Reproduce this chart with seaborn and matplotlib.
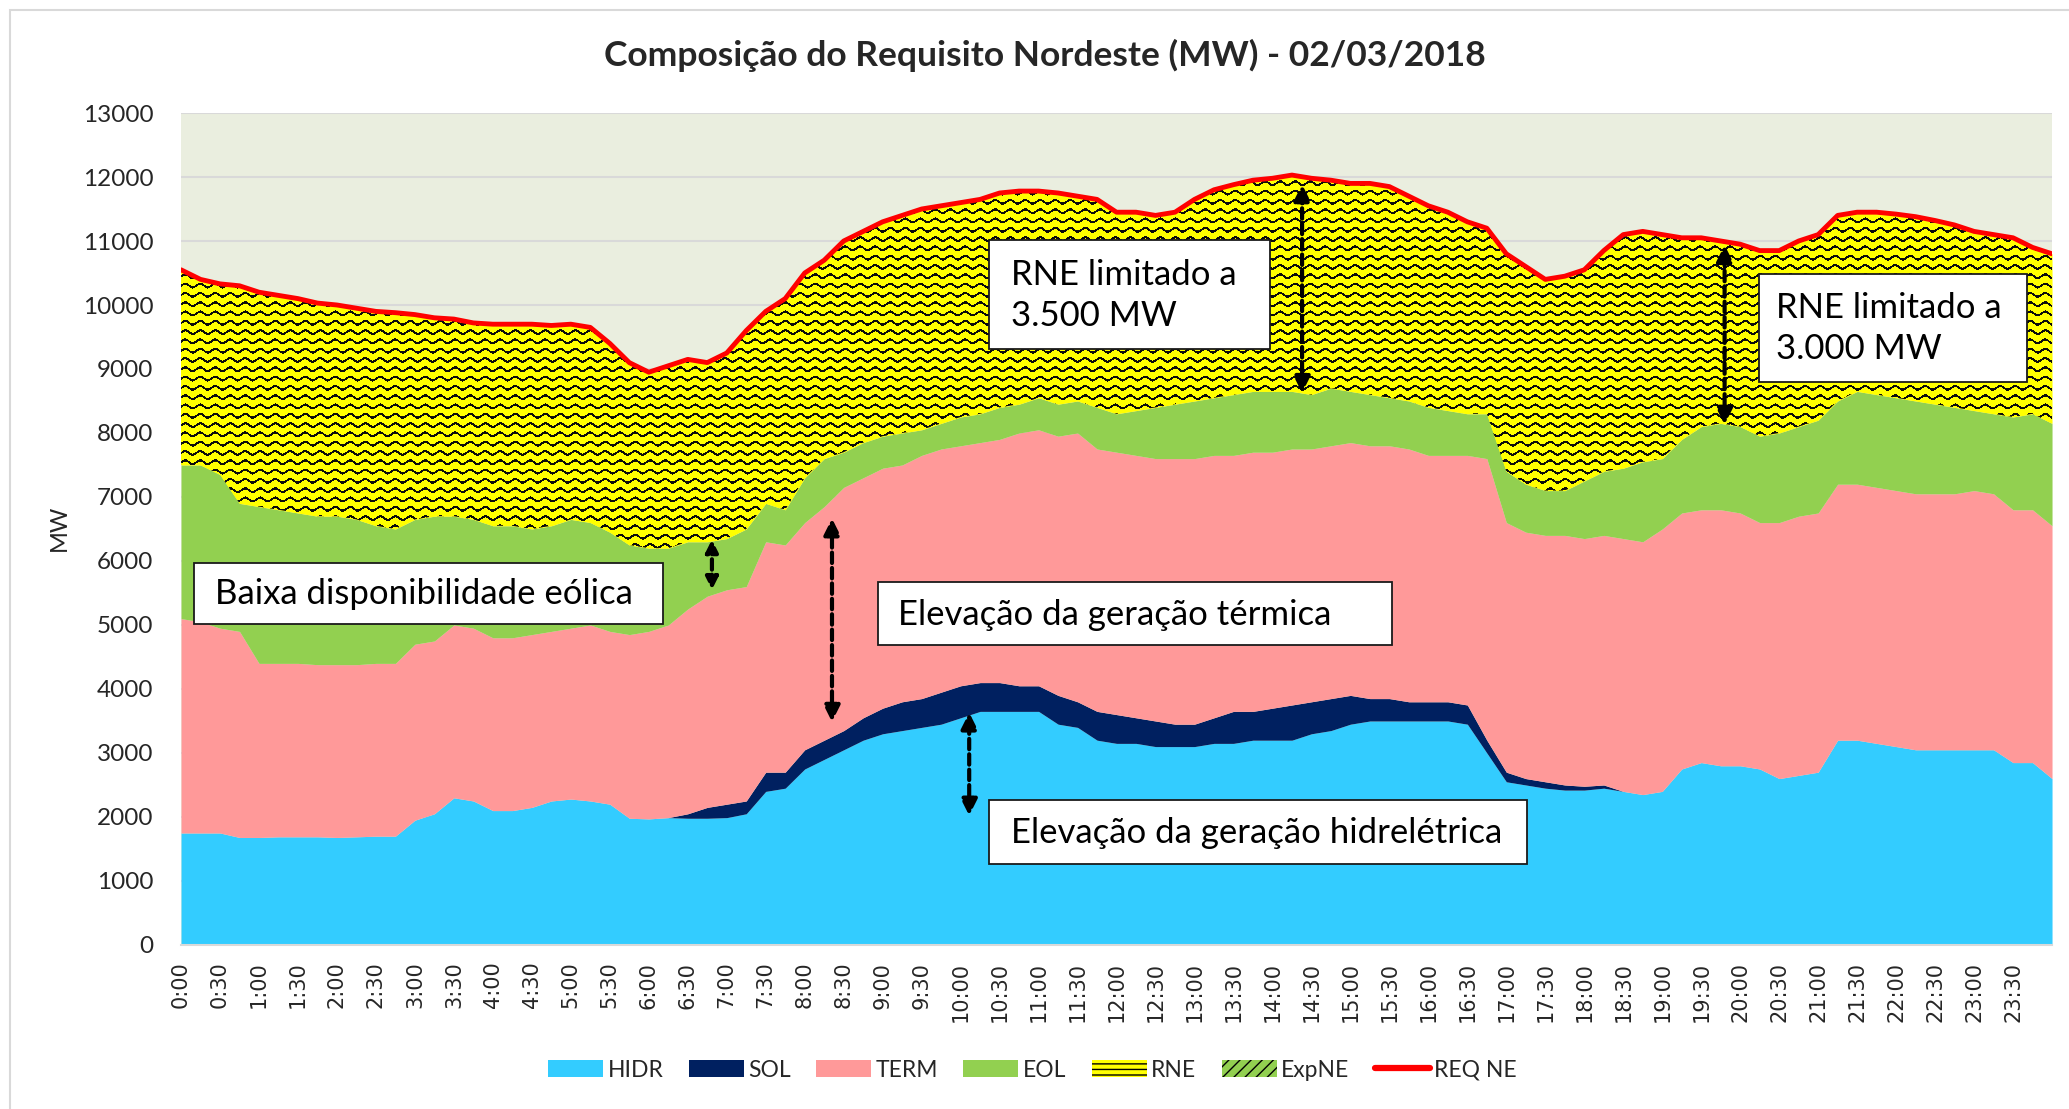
import numpy as np
import pandas as pd
import matplotlib
matplotlib.use("Agg")
import matplotlib.pyplot as plt
from matplotlib.patches import Patch, Rectangle
from matplotlib.lines import Line2D
import seaborn as sns

# ── Dados (MW, a cada 15 min, 0:00 -> 24:00) ──────────
minutos = list(range(0, 24 * 60 + 1, 15))

hidr = [1750, 1750, 1750, 1680, 1680, 1690, 1690, 1690, 1680, 1690, 1700, 1700,
        1950, 2050, 2300, 2250, 2100, 2100, 2150, 2250, 2280, 2250, 2200, 1980,
        1970, 1990, 1980, 1980, 1990, 2050, 2400, 2450, 2750, 2900, 3050, 3200,
        3300, 3350, 3400, 3450, 3550, 3650, 3650, 3650, 3650, 3450, 3400, 3200,
        3150, 3150, 3100, 3100, 3100, 3150, 3150, 3200, 3200, 3200, 3300, 3350,
        3450, 3500, 3500, 3500, 3500, 3500, 3450, 3000, 2550, 2500, 2450, 2420,
        2420, 2450, 2400, 2350, 2400, 2750, 2850, 2800, 2800, 2750, 2600, 2650,
        2700, 3200, 3200, 3150, 3100, 3050, 3050, 3050, 3050, 3050, 2850, 2850,
        2600]

sol = [0, 0, 0, 0, 0, 0, 0, 0, 0, 0, 0, 0,
       0, 0, 0, 0, 0, 0, 0, 0, 0, 0, 0, 0,
       0, 0, 70, 170, 210, 200, 300, 250, 300, 300, 300, 350,
       400, 450, 450, 500, 500, 450, 450, 400, 400, 450, 400, 450,
       450, 400, 400, 350, 350, 400, 500, 450, 500, 550, 500, 500,
       450, 350, 350, 300, 300, 300, 300, 200, 150, 100, 100, 80,
       60, 50, 0, 0, 0, 0, 0, 0, 0, 0, 0, 0,
       0, 0, 0, 0, 0, 0, 0, 0, 0, 0, 0, 0,
       0]

term = [3350, 3300, 3200, 3220, 2720, 2710, 2710, 2690, 2700, 2690, 2700, 2700,
        2750, 2700, 2700, 2700, 2700, 2700, 2700, 2650, 2670, 2750, 2700, 2870,
        2930, 3010, 3200, 3300, 3350, 3350, 3600, 3550, 3550, 3650, 3800, 3750,
        3750, 3700, 3800, 3800, 3750, 3750, 3800, 3950, 4000, 4050, 4200, 4100,
        4100, 4100, 4100, 4150, 4150, 4100, 4000, 4050, 4000, 4000, 3950, 3950,
        3950, 3950, 3950, 3950, 3850, 3850, 3900, 4400, 3900, 3850, 3850, 3900,
        3870, 3900, 3950, 3950, 4100, 4000, 3950, 4000, 3950, 3850, 4000, 4050,
        4050, 4000, 4000, 4000, 4000, 4000, 4000, 4000, 4050, 4000, 3950, 3950,
        3950]

eol = [2400, 2450, 2400, 2000, 2450, 2400, 2350, 2320, 2320, 2270, 2150, 2100,
       1950, 1950, 1700, 1700, 1750, 1750, 1650, 1650, 1700, 1600, 1550, 1400,
       1300, 1200, 1050, 850, 800, 900, 600, 550, 700, 750, 550, 550,
       500, 500, 400, 400, 450, 450, 500, 450, 500, 500, 500, 650,
       600, 700, 800, 850, 900, 900, 950, 950, 950, 900, 850, 900,
       800, 800, 750, 750, 750, 700, 650, 700, 800, 750, 700, 700,
       900, 1000, 1100, 1250, 1100, 1150, 1300, 1350, 1350, 1350, 1400, 1400,
       1450, 1300, 1450, 1450, 1450, 1450, 1400, 1350, 1250, 1250, 1450, 1500,
       1600]

rne = [3050, 2900, 2980, 3400, 3350, 3350, 3350, 3330, 3300, 3300, 3350, 3380,
       3200, 3100, 3080, 3070, 3150, 3150, 3200, 3130, 3050, 3050, 2950, 2850,
       2750, 2850, 2850, 2800, 2900, 3100, 3000, 3300, 3200, 3100, 3300, 3300,
       3350, 3400, 3450, 3400, 3350, 3350, 3350, 3330, 3230, 3300, 3200, 3250,
       3150, 3100, 3000, 3000, 3150, 3250, 3280, 3300, 3330, 3380, 3380, 3250,
       3250, 3300, 3300, 3200, 3150, 3100, 3000, 2900, 3400, 3400, 3300, 3350,
       3300, 3450, 3650, 3600, 3500, 3150, 2950, 2850, 2850, 2900, 2850, 2900,
       2900, 2900, 2800, 2850, 2870, 2880, 2870, 2850, 2800, 2800, 2800, 2600,
       2650]

req_ne = [10550, 10400, 10330, 10300, 10200, 10150, 10100, 10030, 10000, 9950, 9900, 9880,
          9850, 9800, 9780, 9720, 9700, 9700, 9700, 9680, 9700, 9650, 9400, 9100,
          8950, 9050, 9150, 9100, 9250, 9600, 9900, 10100, 10500, 10700, 11000, 11150,
          11300, 11400, 11500, 11550, 11600, 11650, 11750, 11780, 11780, 11750, 11700, 11650,
          11450, 11450, 11400, 11450, 11650, 11800, 11880, 11950, 11980, 12030, 11980, 11950,
          11900, 11900, 11850, 11700, 11550, 11450, 11300, 11200, 10800, 10600, 10400, 10450,
          10550, 10850, 11100, 11150, 11100, 11050, 11050, 11000, 10950, 10850, 10850, 11000,
          11100, 11400, 11450, 11450, 11420, 11380, 11320, 11250, 11150, 11100, 11050, 10900,
          10800]

series = ['HIDR', 'SOL', 'TERM', 'EOL', 'RNE']
cores = ['#33CCFF', '#002060', '#FF9999', '#92D050', '#FFFF00']
rotulos_x = [f"{m // 60}:{m % 60:02d}" for m in range(0, 24 * 60, 30)]

df = pd.DataFrame({'hora': np.array(minutos) / 60.0, 'HIDR': hidr, 'SOL': sol,
                   'TERM': term, 'EOL': eol, 'RNE': rne, 'REQ NE': req_ne})

# ── Figura ────────────────────────────────────────
sns.set_theme(style="white")
plt.rcParams['font.family'] = ['Lato', 'DejaVu Sans']

fig = plt.figure(figsize=(20.69, 11.09), dpi=100)
ax = fig.add_axes([0.0875, 0.1479, 0.9043, 0.7502])
ax.set_facecolor('#EAEEDF')

areas = ax.stackplot(df['hora'], *[df[s] for s in series], colors=cores,
                     linewidth=0, zorder=2)

# textura ondulada do RNE (amarelo com zigue-zague preto)
h_px, w_px = 832, 1871
rr, cc = np.mgrid[0:h_px, 0:w_px]
fase = (rr + 1.8 * np.sin(2 * np.pi * cc / 15.0)) % 9.3
textura = np.ones((h_px, w_px, 3))
textura[..., 2] = 0.0
textura[np.abs(fase - 4.65) < 1.2] = 0.05
im = ax.imshow(textura, extent=(0, 24, 0, 13000), aspect='auto',
               interpolation='nearest', zorder=2.1)
im.set_clip_path(areas[-1].get_paths()[0], transform=ax.transData)

sns.lineplot(data=df, x='hora', y='REQ NE', color='#FF0000', lw=3.5,
             ax=ax, legend=False, zorder=3)

ax.set_xlim(0, 24)
ax.set_ylim(0, 13000)
ax.set_yticks(range(0, 13001, 1000))
ax.set_xticks(np.arange(0, 24, 0.5))
ax.set_xticklabels(rotulos_x, rotation=90, family='DejaVu Sans', fontsize=15)
ax.tick_params(axis='y', labelsize=17.5, pad=20, length=0, colors='#262626')
ax.tick_params(axis='x', pad=12, length=0, colors='#262626')
ax.yaxis.grid(True, color='#D9D9D9', lw=1.5)
ax.set_axisbelow(True)
ax.set_xlabel('')
ax.set_ylabel('')
for s in ['top', 'right', 'left']:
    ax.spines[s].set_visible(False)
ax.spines['bottom'].set_color('#D9D9D9')
ax.spines['bottom'].set_linewidth(1.5)

# ── Caixas de texto ───────────────────────────────
caixas = [
    ((0.17, 5014), 6.01, 950, 0.44, 5490, "Baixa disponibilidade eólica"),
    ((8.94, 4684), 6.59, 991, 9.20, 5160, "Elevação da geração térmica"),
    ((10.37, 1259), 6.89, 1011, 10.64, 1754, "Elevação da geração hidrelétrica"),
    ((10.37, 9307), 3.60, 1713, 10.64, 10153, "RNE limitado a\n3.500 MW"),
    ((20.24, 8791), 3.44, 1692, 20.46, 9637, "RNE limitado a\n3.000 MW"),
]
for canto, larg, alt, tx, ty, txt in caixas:
    ax.add_patch(Rectangle(canto, larg, alt, facecolor='white', edgecolor='#1A1A1A',
                           lw=1.3, zorder=4))
    ax.text(tx, ty, txt, ha='left', va='center', fontsize=25, linespacing=1.35,
            color='black', zorder=5)

# ── Setas ─────────────────────────────────────────
setas = [(6.81, 6335, 5551, 18), (8.35, 6665, 3487, 24), (10.11, 3632, 2022, 24),
         (14.38, 11886, 8626, 24), (19.80, 10937, 8130, 24)]
for xs, y1, y0, ms in setas:
    ax.annotate('', xy=(xs, y1), xytext=(xs, y0),
                arrowprops=dict(arrowstyle='<|-|>', color='black', lw=3,
                                linestyle=(0, (2.5, 1.2)), mutation_scale=ms,
                                shrinkA=0, shrinkB=0),
                zorder=4)

# ── Título, eixo e legenda ────────────────────────
fig.text(0.505, 1 - 55 / 1109, "Composição do Requisito Nordeste (MW) - 02/03/2018",
         ha='center', va='center', fontsize=25.5, fontweight='bold')
fig.text(0.0285, 0.524, "MW", rotation=90, ha='center', va='center', fontsize=17)

handles = [Patch(facecolor=c, edgecolor='none') for c in cores[:4]]
handles.append(Patch(facecolor='#FFFF00', edgecolor='black', hatch='---', lw=0))
handles.append(Patch(facecolor='#92D050', edgecolor='black', hatch='///', lw=0))
handles.append(Line2D([0], [0], color='#FF0000', lw=4.5))
fig.legend(handles, series + ['ExpNE', 'REQ NE'], loc='center',
           bbox_to_anchor=(0.499, 0.035), ncol=7, frameon=False, fontsize=16.5,
           handlelength=2.4, handleheight=0.8, handletextpad=0.2, columnspacing=1.1)

fig.patches.append(Rectangle((10 / 2069, -0.01), 1.0, 1.0 - 10 / 1109 + 0.01,
                             transform=fig.transFigure, fill=False,
                             edgecolor='#D9D9D9', lw=1.5))

plt.savefig("out.png", dpi=100)
print("Grafico salvo em out.png")
